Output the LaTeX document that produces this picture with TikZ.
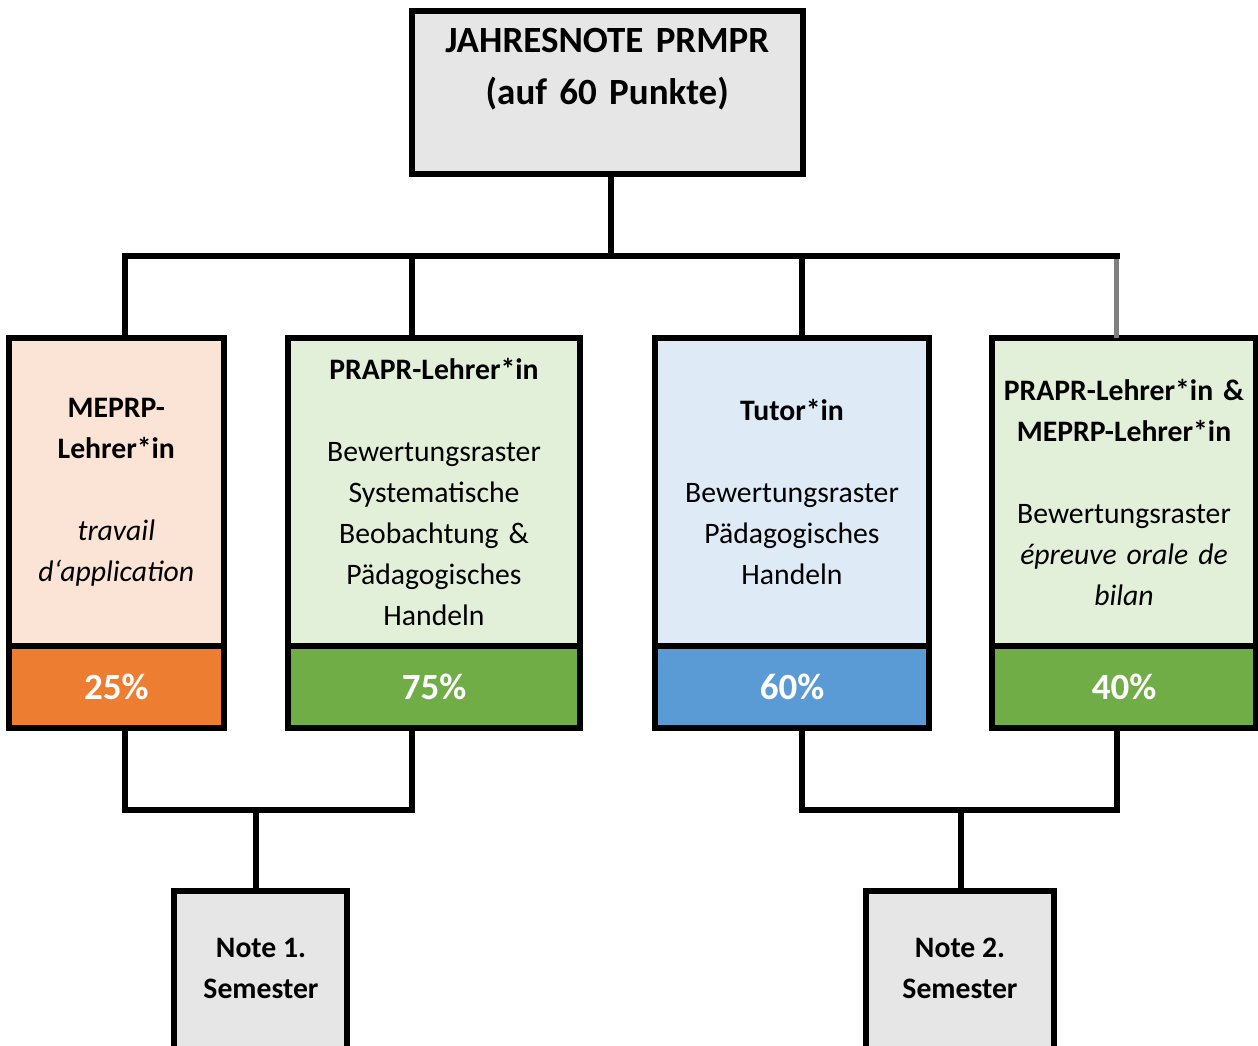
\documentclass[tikz,border=0pt]{standalone}
\usepackage{fontspec}
\setmainfont{Carlito}
\definecolor{greyfill}{HTML}{E7E6E6}
\definecolor{peach}{HTML}{FBE4D5}
\definecolor{lgreen}{HTML}{E2EFD9}
\definecolor{lblue}{HTML}{DEEAF6}
\definecolor{orangeP}{HTML}{ED7D31}
\definecolor{greenP}{HTML}{70AD47}
\definecolor{blueP}{HTML}{5B9BD5}
\definecolor{connGray}{HTML}{808080}
\begin{document}
\begin{tikzpicture}[x=1pt,y=-1pt,
  box/.style={draw=black, line width=6pt, inner sep=0pt, outer sep=0pt, anchor=north west, align=center},
  bodytxt/.style={font=\fontsize{29.7}{41}\selectfont},
  pct/.style={box, text=white, font=\fontsize{37}{40}\selectfont\bfseries},
  semtxt/.style={font=\fontsize{29.7}{41}\selectfont\bfseries, align=center, inner sep=0pt},
  conn/.style={draw=black, line width=6pt}]
\useasboundingbox (0,0) rectangle (1258,1046);

% top box
\node[box, fill=greyfill, minimum width=391, minimum height=163, text width=385,
      font=\fontsize{37}{52}\selectfont\bfseries] (top) at (411.7,11)
  {JAHRESNOTE PRMPR\\(auf 60 Punkte)\\~};

% upper box parts
\node[box, bodytxt, fill=peach, minimum width=214.7, minimum height=308, text width=205] (b1) at (9,338)
  {\textbf{MEPRP-}\\\textbf{Lehrer*in}\\~\\\textit{travail}\\\textit{d‘application}};
\node[box, bodytxt, fill=lgreen, minimum width=292, minimum height=308, text width=282] (b2) at (288,338)
  {\textbf{PRAPR-Lehrer*in}\\~\\Bewertungsraster\\Systematische\\Beobachtung \&\\Pädagogisches\\Handeln};
\node[box, bodytxt, fill=lblue, minimum width=274, minimum height=308, text width=264] (b3) at (655,338)
  {\textbf{Tutor*in}\\~\\Bewertungsraster\\Pädagogisches\\Handeln};
\node[box, bodytxt, fill=lgreen, minimum width=264, minimum height=308, text width=258] (b4) at (992,338)
  {\textbf{PRAPR-Lehrer*in \&}\\\textbf{MEPRP-Lehrer*in}\\~\\Bewertungsraster\\\textit{épreuve orale de}\\\textit{bilan}};

% percentage parts
\node[pct, fill=orangeP, minimum width=214.7, minimum height=82] (p1) at (9,646) {25\%};
\node[pct, fill=greenP, minimum width=292, minimum height=82] (p2) at (288,646) {75\%};
\node[pct, fill=blueP, minimum width=274, minimum height=82] (p3) at (655,646) {60\%};
\node[pct, fill=greenP, minimum width=264, minimum height=82] (p4) at (992,646) {40\%};

% semester boxes
\node[box, fill=greyfill, minimum width=173, minimum height=200] (n1) at (174,891) {};
\node[semtxt] (n1t) at (261,968) {Note 1.\\Semester};
\node[box, fill=greyfill, minimum width=188, minimum height=200] (n2) at (866,891) {};
\node[semtxt] (n2t) at (960,968) {Note 2.\\Semester};

% junction coordinates
\coordinate (j1) at (125.3,256.3);
\coordinate (j2) at (412,256.3);
\coordinate (j3) at (802,256.3);
\coordinate (j4) at (1116.7,256.3);
\coordinate (j4e) at (1119.7,256.3);
\coordinate (jt) at (610.8,256.3);
\coordinate (k1) at (125.3,810);
\coordinate (k2) at (412,810);
\coordinate (k3) at (802,810);
\coordinate (k4) at (1116.7,810);
\coordinate (m1) at (256,810);
\coordinate (m2) at (960.7,810);

% upper connectors
\draw[line width=5pt, connGray] (j4 |- b4.north) -- (j4);
\draw[conn] (jt |- top.south) -- (jt);
\draw[conn] (j1 |- b1.north) -- (j1) -- (j4e);
\draw[conn] (j2 |- b2.north) -- (j2);
\draw[conn] (j3 |- b3.north) -- (j3);

% lower connectors
\draw[conn] (k1 |- p1.south) -- (k1) -- (k2) -- (k2 |- p2.south);
\draw[conn] (m1) -- (m1 |- n1.north);
\draw[conn] (k3 |- p3.south) -- (k3) -- (k4) -- (k4 |- p4.south);
\draw[conn] (m2) -- (m2 |- n2.north);
\end{tikzpicture}
\end{document}
